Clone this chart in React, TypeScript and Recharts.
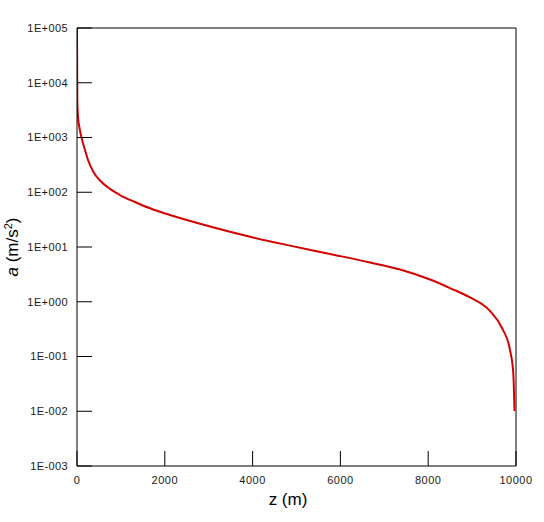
import { LineChart, Line, XAxis, YAxis, ReferenceLine } from "recharts";

// depth z (m) and acceleration a (m/s^2)
const zValues = [0, 7, 23, 57, 107, 182, 251, 371, 524, 752, 980, 1321, 1663, 2118, 3030, 3941, 4852, 5763, 6674, 7358, 8041, 8497, 8952, 9408, 9681, 9863, 9938, 9966];
const aValues = [100000, 4840, 2365, 1493, 966, 592, 388, 237, 164, 115, 89, 66.4, 50.9, 38.4, 23.7, 15.4, 10.6, 7.45, 5.21, 3.88, 2.55, 1.78, 1.2, 0.678, 0.332, 0.1315, 0.05, 0.0101];

const xTicks = [0, 2000, 4000, 6000, 8000, 10000];
const yTicks = [0.001, 0.01, 0.1, 1, 10, 100, 1000, 10000, 100000];

const data = zValues.map((z, i) => ({ z, a: aValues[i] }));

const font = "'Liberation Sans', Arial, sans-serif";

const fmtExp = (v: number) => {
  const e = Math.round(Math.log10(v));
  return `1E${e < 0 ? "-" : "+"}${String(Math.abs(e)).padStart(3, "0")}`;
};

const YTick = (props: any) => {
  const { x, y, payload } = props;
  return (
    <g>
      <line x1={x + 9} x2={x + 24} y1={y} y2={y} stroke="#000" />
      <text x={x} y={y} dy="0.355em" textAnchor="end" fontSize={11} fontFamily={font} fill="#1a1a1a" letterSpacing={0.4}>
        {fmtExp(payload.value)}
      </text>
    </g>
  );
};

const XTick = (props: any) => {
  const { x, y, payload } = props;
  return (
    <g>
      <line x1={x} x2={x} y1={y - 10} y2={y - 25} stroke="#000" />
      <text x={x} y={y} dy="0.71em" textAnchor="middle" fontSize={11} fontFamily={font} fill="#1a1a1a" letterSpacing={0.5}>
        {payload.value}
      </text>
    </g>
  );
};

const YLabel = () => (
  <text x={18} y={247} transform="rotate(-90, 18, 247)" textAnchor="middle" fontSize={17} fontFamily={font} fill="#000">
    <tspan fontStyle="italic">a</tspan> (m/s
    <tspan dy={-6} fontSize={11}>2</tspan>
    <tspan dy={6}>)</tspan>
  </text>
);

const XLabel = () => (
  <text x={288} y={505} textAnchor="middle" fontSize={17} fontFamily={font} fill="#000">
    z (m)
  </text>
);

export default function App() {
  return (
    <div style={{ position: "absolute", left: 0, top: 0, width: 544, height: 522, background: "#fff" }}>
      <LineChart width={544} height={522} data={data} margin={{ top: 28, right: 28, left: 0, bottom: 0 }}>
        <XAxis
          dataKey="z"
          type="number"
          domain={[0, 10000]}
          ticks={xTicks}
          allowDataOverflow
          height={56}
          tickSize={0}
          tickMargin={10}
          tickLine={false}
          axisLine={{ stroke: "#000" }}
          tick={<XTick />}
          label={<XLabel />}
        />
        <YAxis
          dataKey="a"
          scale="log"
          type="number"
          domain={[0.001, 100000]}
          ticks={yTicks}
          allowDataOverflow
          width={77}
          tickSize={0}
          tickMargin={9}
          tickLine={false}
          axisLine={{ stroke: "#000" }}
          tick={<YTick />}
          label={<YLabel />}
        />
        <ReferenceLine y={100000} stroke="#000" />
        <ReferenceLine x={10000} stroke="#000" />
        <Line
          type="monotone"
          dataKey="a"
          stroke="#d40000"
          strokeWidth={2}
          dot={false}
          isAnimationActive={false}
        />
      </LineChart>
    </div>
  );
}
